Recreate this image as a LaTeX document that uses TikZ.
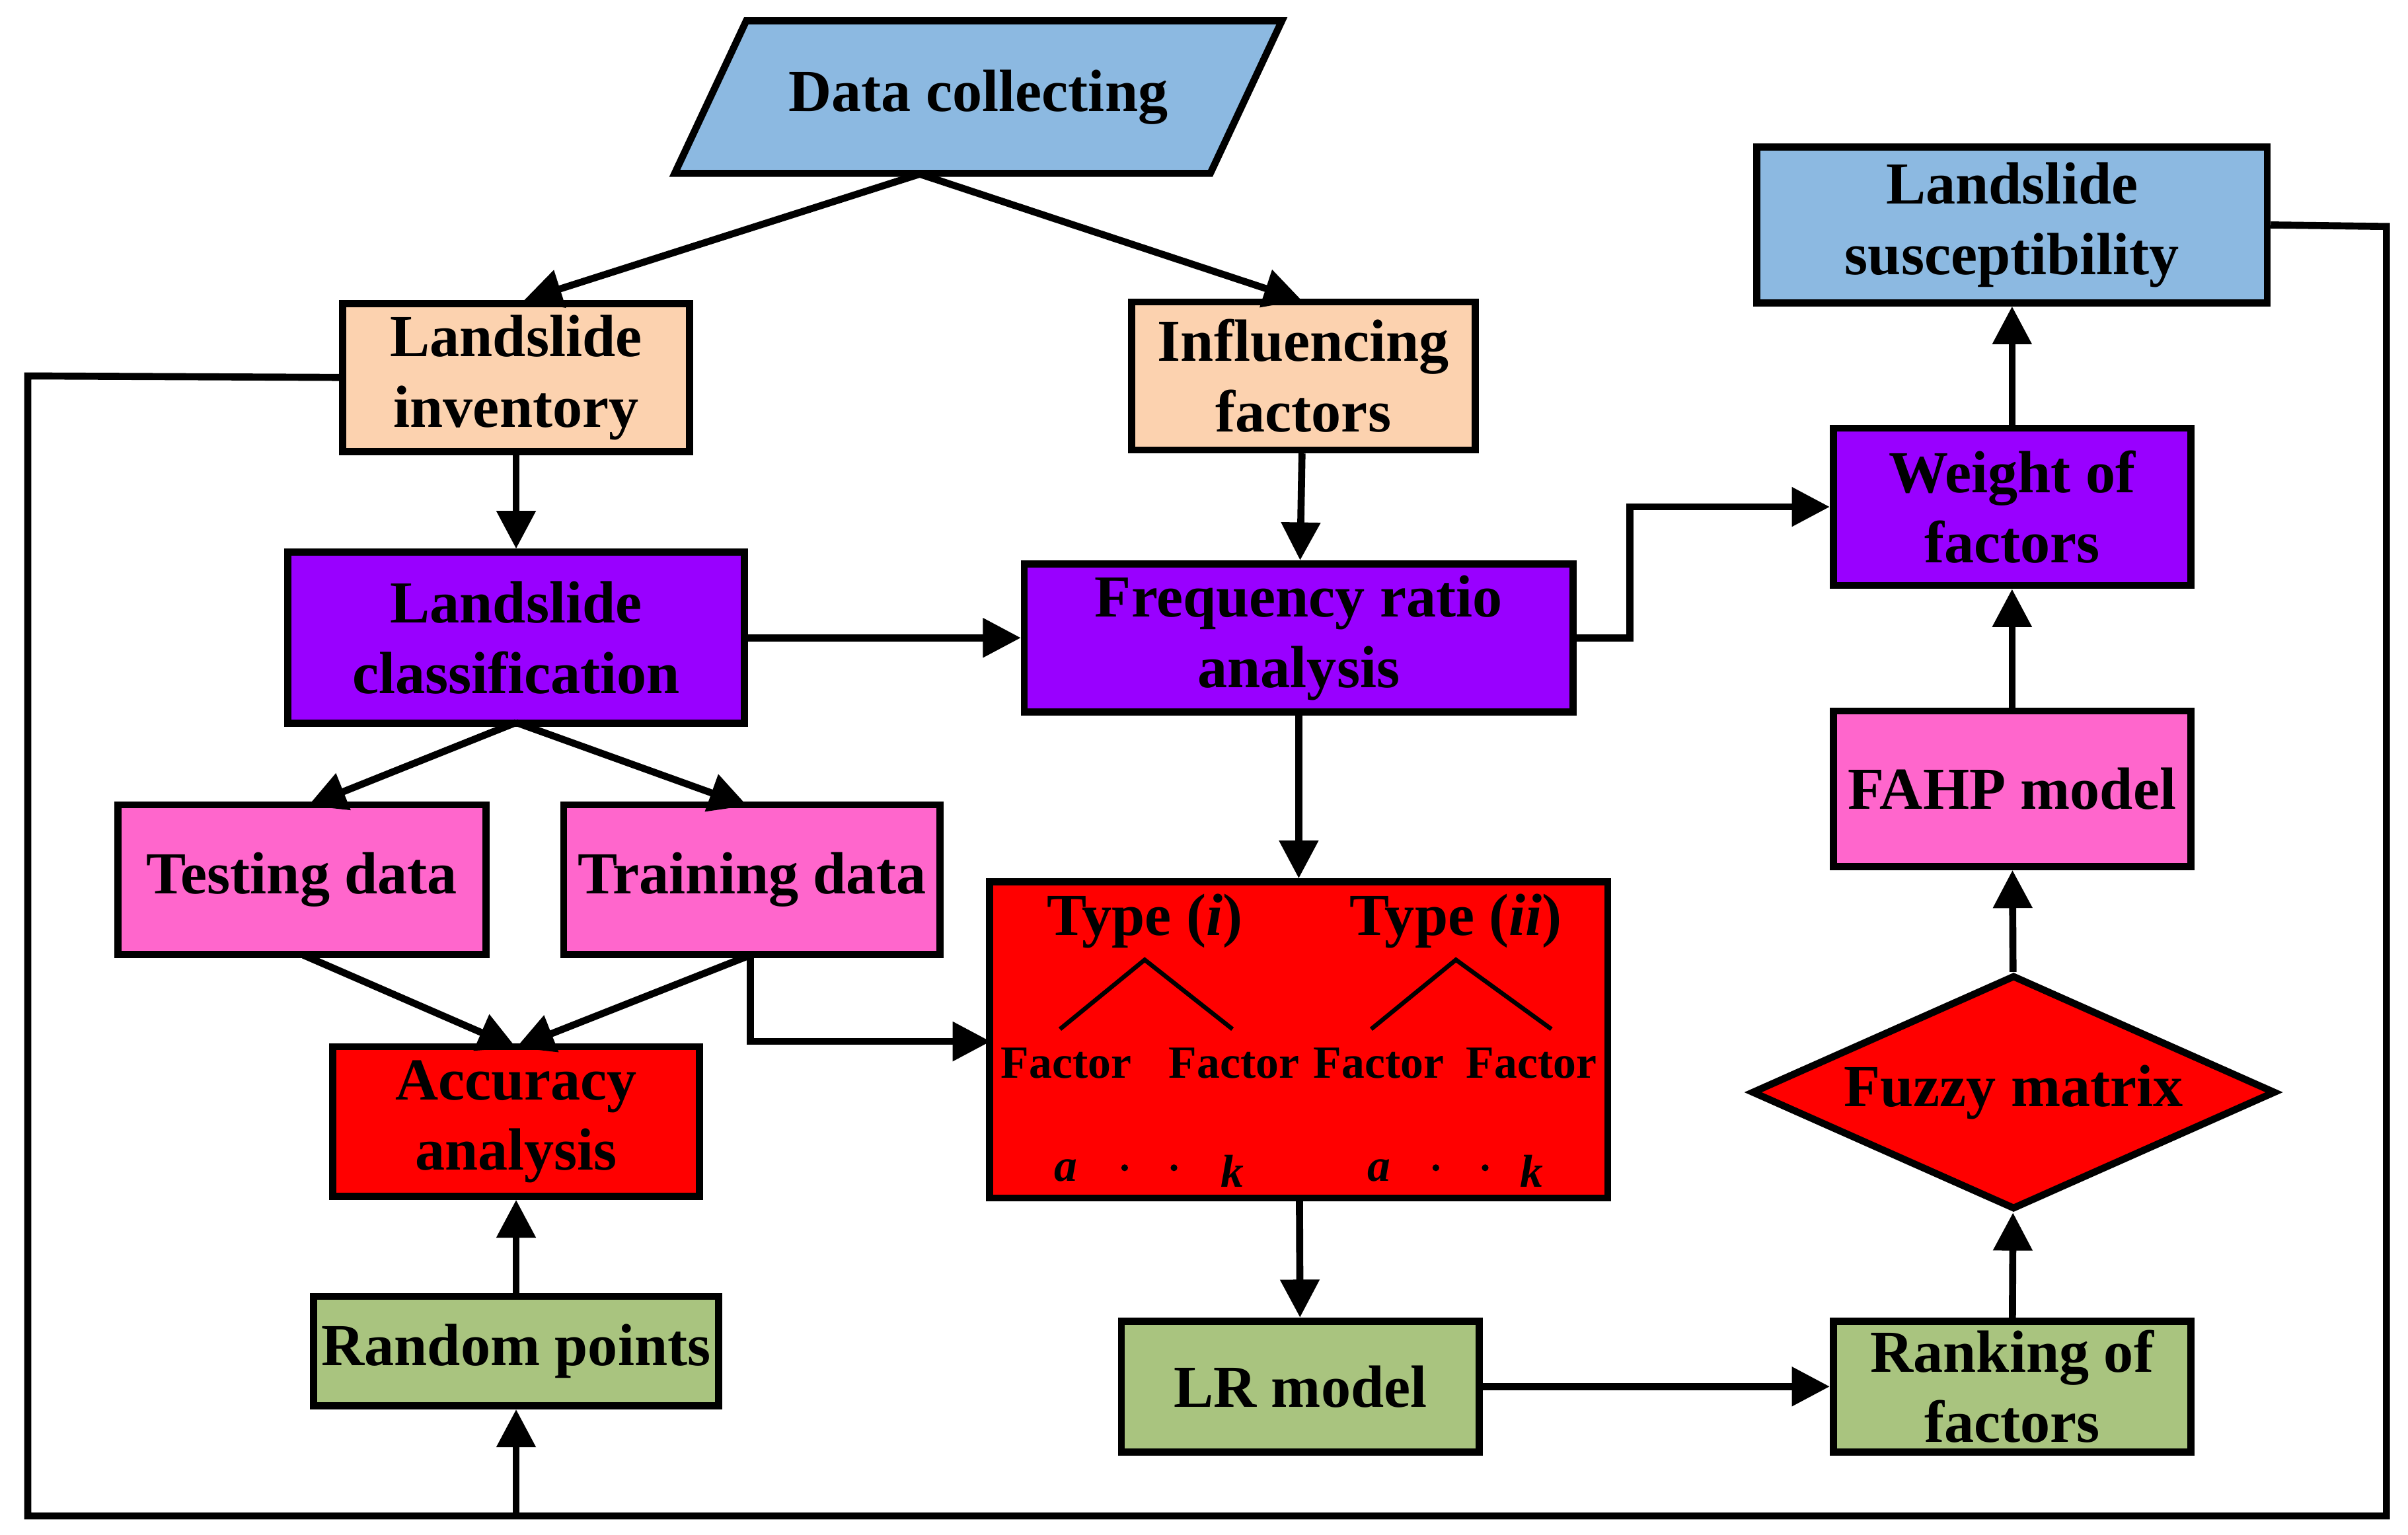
\documentclass[tikz,border=0pt]{standalone}
\usepackage{fontspec}
\setmainfont{Liberation Serif}
\usetikzlibrary{shapes.geometric,arrows.meta}
\definecolor{cblue}{RGB}{140,185,225}
\definecolor{cpeach}{RGB}{252,210,175}
\definecolor{cpurple}{RGB}{153,0,255}
\definecolor{cpink}{RGB}{255,102,204}
\definecolor{cred}{RGB}{255,0,0}
\definecolor{cgreen}{RGB}{169,196,127}
\begin{document}
\begin{tikzpicture}[x=0.01cm,y=-0.01cm,
  box/.style={draw=black,line width=1.3pt,align=center,font=\fontsize{11}{13}\selectfont\bfseries,inner sep=0pt},
  arr/.style={line width=1.3pt,-{Triangle[length=7pt,width=7pt]}},
  ln/.style={line width=1.3pt}]
\useasboundingbox (0,0) rectangle (1563,996);
\node[box,trapezium,trapezium left angle=43,trapezium right angle=137,fill=cblue,minimum width=3.95cm,minimum height=0.99cm,trapezium stretches=true] (dc) at (635,63) {Data collecting};
\node[box,fill=cpeach,minimum width=2.25cm,minimum height=0.96cm] (li) at (335,245) {Landslide\\inventory};
\node[box,fill=cpeach,minimum width=2.23cm,minimum height=0.96cm] (if) at (846,244) {Influencing\\factors};
\node[box,fill=cpurple,minimum width=2.96cm,minimum height=1.11cm] (lc) at (335,414) {Landslide\\classification};
\node[box,fill=cpurple,minimum width=3.56cm,minimum height=0.96cm] (fr) at (843,414) {Frequency ratio\\analysis};
\node[box,fill=cpink,minimum width=2.39cm,minimum height=0.97cm] (td) at (196,571) {Testing data};
\node[box,fill=cpink,minimum width=2.44cm,minimum height=0.97cm] (tr) at (488,571) {Training data};
\node[box,fill=cred,minimum width=2.38cm,minimum height=0.97cm] (aa) at (335,728) {Accuracy\\analysis};
\node[box,fill=cred,minimum width=4.01cm,minimum height=2.05cm] (ty) at (843,675) {};
\node[box,fill=cgreen,minimum width=2.63cm,minimum height=0.71cm] (rp) at (335,877) {Random points};
\node[box,fill=cgreen,minimum width=2.32cm,minimum height=0.85cm] (lr) at (844,900) {LR model};
\node[box,fill=cblue,minimum width=3.31cm,minimum height=1.01cm] (ls) at (1306,146) {Landslide\\susceptibility};
\node[box,fill=cpurple,minimum width=2.32cm,minimum height=1.02cm] (wf) at (1306,329) {Weight of\\factors};
\node[box,fill=cpink,minimum width=2.32cm,minimum height=1.01cm] (fa) at (1306,512) {FAHP model};
\node[box,diamond,aspect=2.24,fill=cred,minimum width=3.4cm,minimum height=1.52cm] (fm) at (1307,709) {Fuzzy matrix};
\node[box,fill=cgreen,minimum width=2.32cm,minimum height=0.85cm] (rk) at (1306,900) {Ranking of\\factors};
% Type box interior
\begin{scope}[every node/.style={font=\fontsize{11}{13}\selectfont\bfseries}]
\node (t1) at (743,598) {Type (\textit{i})};
\node (t2) at (945,598) {Type (\textit{ii})};
\end{scope}
\begin{scope}[every node/.style={font=\fontsize{8.5}{10}\selectfont\bfseries}]
\node (f1) at (692,690) {Factor};\node (f2) at (801,690) {Factor};
\node (f3) at (895,690) {Factor};\node (f4) at (994,690) {Factor};
\node (a1) at (692,760) {\textit{a}};\node (k1) at (800,760) {\textit{k}};
\node (a2) at (895,760) {\textit{a}};\node (k2) at (994,760) {\textit{k}};
\end{scope}
\foreach \x in {730,762,932,964} \fill (\x,758) circle (2.2);
\coordinate (p1) at (743,623);\coordinate (p2) at (945,623);
\draw[line width=0.8pt] (688,668) -- (p1) -- (800,668);
\draw[line width=0.8pt] (890,668) -- (p2) -- (1007,668);
% edges
\coordinate (dcb) at (597,113);
\draw[arr] (dcb) -- (340,195);
\draw[arr] (dcb) -- (845,195);
\draw[arr] (li) -- (lc);
\draw[arr] (if) -- (fr);
\draw[arr] (lc) -- (fr);
\coordinate (lcb) at (335,469);
\draw[arr] (lcb) -- (200,523);
\draw[arr] (lcb) -- (485,523);
\draw[arr] (197,620) -- (335,680);
\draw[arr] (487,620) -- (335,680);
\draw[arr] (487,620) |- (643,676);
\draw[arr] (fr) -- (ty);
\draw[arr] (ty) -- (lr);
\draw[arr] (lr) -- (rk);
\draw[arr] (rk) -- (fm);
\draw[arr] (fm) -- (fa);
\draw[arr] (fa) -- (wf);
\draw[arr] (wf) -- (ls);
\draw[arr] (fr.east) -- (1058,414) |- (wf.west);
\draw[arr] (rp) -- (aa);
\draw[ln] (ls.east) -- (1549,147) -- (1549,984) -- (18,984) -- (18,244) -- (li.west);
\draw[arr] (335,984) -- (rp);
\end{tikzpicture}
\end{document}
